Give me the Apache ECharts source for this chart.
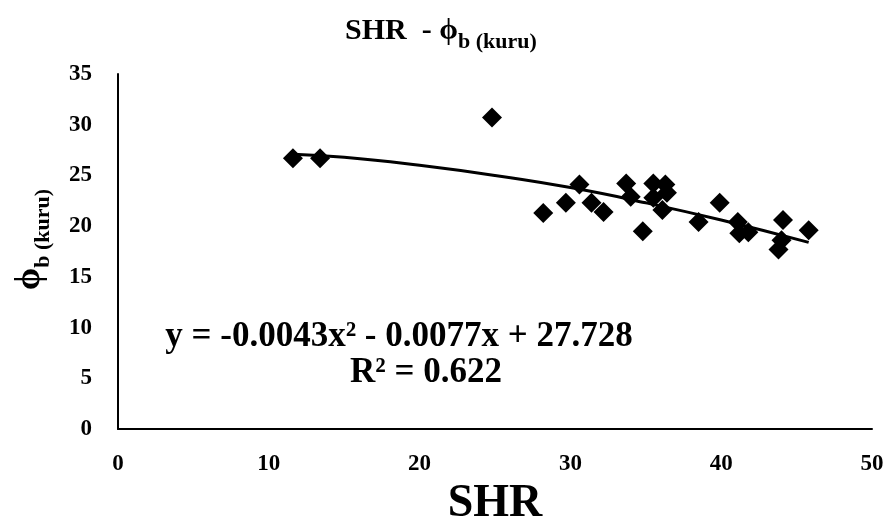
<!DOCTYPE html>
<html><head><meta charset="utf-8">
<script src="https://cdn.jsdelivr.net/npm/echarts@6/dist/echarts.min.js"></script>
<style>html,body{margin:0;padding:0;background:#fff}#c{width:888px;height:525px}</style>
</head><body><div id="c"></div>
<script>
// Observed points (SHR, phi_b kuru)
var shr = [11.6, 13.4, 24.8, 28.2, 29.7, 30.6, 31.4, 32.2, 33.7, 34.0, 35.5, 36.3, 36.4, 35.5, 36.1, 34.8, 38.5, 39.9, 41.1, 41.2, 41.8, 44.1, 44.0, 43.8, 45.8];
var phi = [26.7, 26.7, 30.7, 21.3, 22.3, 24.1, 22.3, 21.4, 24.2, 22.9, 24.2, 24.1, 23.3, 22.8, 21.6, 19.5, 20.4, 22.3, 20.4, 19.3, 19.4, 20.6, 18.6, 17.7, 19.6];
// Trend line
var trendX = [11.6, 15, 20, 25, 30, 35, 40, 45.8];
var trendY = [27.1, 26.8, 26.0, 25.0, 23.8, 22.3, 20.6, 18.4];
var xTicks = [0, 10, 20, 30, 40, 50];
var yTicks = [0, 5, 10, 15, 20, 25, 30, 35];

var pts = shr.map(function (v, i) { return [v, phi[i]]; });
var trend = trendX.map(function (v, i) { return [v, trendY[i]]; });
var serif = 'Liberation Serif';
var chart = echarts.init(document.getElementById('c'));
chart.setOption({
  backgroundColor: '#fff',
  animation: false,
  title: {
    text: '{a|SHR  - ϕ}{b|b (kuru)}',
    left: 340,
    top: 7,
    textStyle: {
      rich: {
        a: { fontFamily: serif, fontWeight: 'bold', fontSize: 30, color: '#000', verticalAlign: 'bottom', lineHeight: 34 },
        b: { fontFamily: serif, fontWeight: 'bold', fontSize: 22, color: '#000', verticalAlign: 'bottom', lineHeight: 34, padding: [0, 0, -7, 0] }
      }
    }
  },
  grid: { left: 118, right: 16, top: 74, bottom: 96, containLabel: false, outerBoundsMode: 'none' },
  xAxis: {
    type: 'value', min: 0, max: 50, interval: 10,
    name: 'SHR', nameLocation: 'middle', nameGap: 45,
    nameTextStyle: { fontFamily: serif, fontWeight: 'bold', fontSize: 46, color: '#000' },
    axisLine: { show: true, lineStyle: { color: '#000', width: 2 } },
    axisTick: { show: false },
    splitLine: { show: false },
    axisLabel: {
      margin: 24, fontFamily: serif, fontWeight: 'bold', fontSize: 23, color: '#000',
      formatter: function (v) { return xTicks.indexOf(v) >= 0 ? String(v) : ''; }
    }
  },
  yAxis: {
    type: 'value', min: 0, max: 35, interval: 5,
    name: '{a|ϕ}{b|b (kuru)}', nameLocation: 'middle', nameGap: 70, nameRotate: 90,
    nameTextStyle: {
      padding: [0, 0, 0, 24],
      rich: {
        a: { fontFamily: serif, fontWeight: 'bold', fontSize: 36, color: '#000', verticalAlign: 'bottom', lineHeight: 40 },
        b: { fontFamily: serif, fontWeight: 'bold', fontSize: 22, color: '#000', verticalAlign: 'bottom', lineHeight: 40, padding: [0, 0, -6, 0] }
      }
    },
    axisLine: { show: true, lineStyle: { color: '#000', width: 2 } },
    axisTick: { show: false },
    splitLine: { show: false },
    axisLabel: {
      margin: 26, fontFamily: serif, fontWeight: 'bold', fontSize: 23, color: '#000',
      formatter: function (v) { return yTicks.indexOf(v) >= 0 ? String(v) : ''; }
    }
  },
  series: [
    {
      type: 'line', data: trend, smooth: true, showSymbol: false, symbol: 'none',
      lineStyle: { color: '#000', width: 3 }, z: 2
    },
    {
      type: 'scatter', data: pts, symbol: 'diamond', symbolSize: 20,
      itemStyle: { color: '#000', opacity: 1 }, z: 3
    }
  ],
  graphic: [
    { type: 'text', x: 399, y: 337, style: { text: 'y = -0.0043x² - 0.0077x + 27.728', font: 'bold 35px "Liberation Serif"', fill: '#000', align: 'center', verticalAlign: 'middle' } },
    { type: 'text', x: 426, y: 373, style: { text: 'R² = 0.622', font: 'bold 35px "Liberation Serif"', fill: '#000', align: 'center', verticalAlign: 'middle' } }
  ]
});
</script></body></html>
